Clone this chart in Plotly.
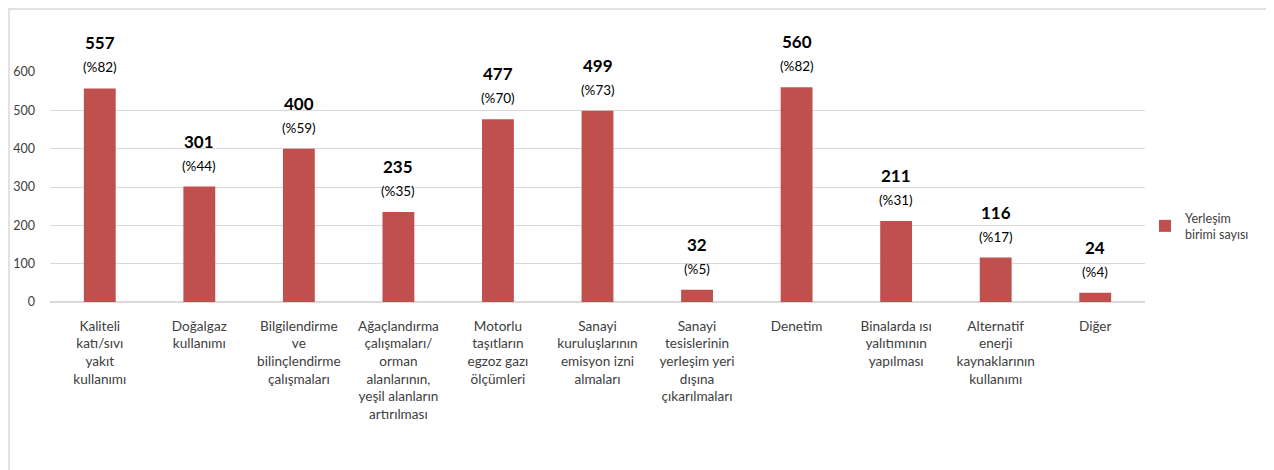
import plotly.graph_objects as go

categories = [
    "Kaliteli<br>katı/sıvı<br>yakıt<br>kullanımı",
    "Doğalgaz<br>kullanımı",
    "Bilgilendirme<br>ve<br>bilinçlendirme<br>çalışmaları",
    "Ağaçlandırma<br>çalışmaları/<br>orman<br>alanlarının,<br>yeşil alanların<br>artırılması",
    "Motorlu<br>taşıtların<br>egzoz gazı<br>ölçümleri",
    "Sanayi<br>kuruluşlarının<br>emisyon izni<br>almaları",
    "Sanayi<br>tesislerinin<br>yerleşim yeri<br>dışına<br>çıkarılmaları",
    "Denetim",
    "Binalarda ısı<br>yalıtımının<br>yapılması",
    "Alternatif<br>enerji<br>kaynaklarının<br>kullanımı",
    "Diğer",
]
values = [557, 301, 400, 235, 477, 499, 32, 560, 211, 116, 24]
percents = [82, 44, 59, 35, 70, 73, 5, 82, 31, 17, 4]
series_name = "Yerleşim<br>birimi sayısı"
y_ticks = [0, 100, 200, 300, 400, 500, 600]

FONT = "Lato"
TXT = "#404040"
BAR = "#C0504D"

W, H = 1266, 462
ML, MR, MT, MB = 42, 129, 64, 168
PW = W - ML - MR
PH = H - MT - MB

fig = go.Figure()
fig.add_trace(go.Bar(
    x=categories, y=values, name=series_name,
    marker=dict(color=BAR, line=dict(width=0)),
    width=0.32, showlegend=True,
))

for c, v, p in zip(categories, values, percents):
    fig.add_annotation(x=c, y=v, text=f"(%{p})", showarrow=False,
                       yanchor="bottom", yshift=11,
                       font=dict(family=FONT, size=13.5, color="#000000"))
    fig.add_annotation(x=c, y=v, text=f"<b>{v}</b>", showarrow=False,
                       yanchor="bottom", yshift=33,
                       font=dict(family=FONT, size=17, color="#000000"))

# outer chart frame (light grey border around whole chart)
fig.add_shape(type="rect", xref="paper", yref="paper",
              x0=(1 - ML) / PW, x1=(W - 4 - ML) / PW,
              y0=-(MB + 20) / PH, y1=(PH + MT - 1) / PH,
              line=dict(color="#D9D9D9", width=1.5), fillcolor="rgba(0,0,0,0)",
              layer="below")

fig.update_layout(
    width=W, height=H,
    margin=dict(l=ML, r=MR, t=MT, b=MB, autoexpand=False),
    paper_bgcolor="white", plot_bgcolor="white",
    font=dict(family=FONT, size=12, color=TXT),
    bargap=0.68,
    xaxis=dict(showgrid=False, showline=False, ticks="", tickangle=0,
               ticklabelstandoff=14,
               tickfont=dict(family=FONT, size=13.6, color=TXT)),
    yaxis=dict(range=[0, 600], tickvals=y_ticks, showgrid=True,
               gridcolor="#D9D9D9", gridwidth=1.3, zeroline=True,
               zerolinecolor="#D9D9D9", zerolinewidth=1.5, showline=False,
               ticks="", ticklabelstandoff=14,
               tickfont=dict(family=FONT, size=12.5, color=TXT)),
    legend=dict(x=1.0, y=0.33, xanchor="left", yanchor="middle",
                font=dict(family=FONT, size=12.5, color=TXT),
                itemwidth=30, bgcolor="rgba(0,0,0,0)"),
)

fig.write_html("out.html")
